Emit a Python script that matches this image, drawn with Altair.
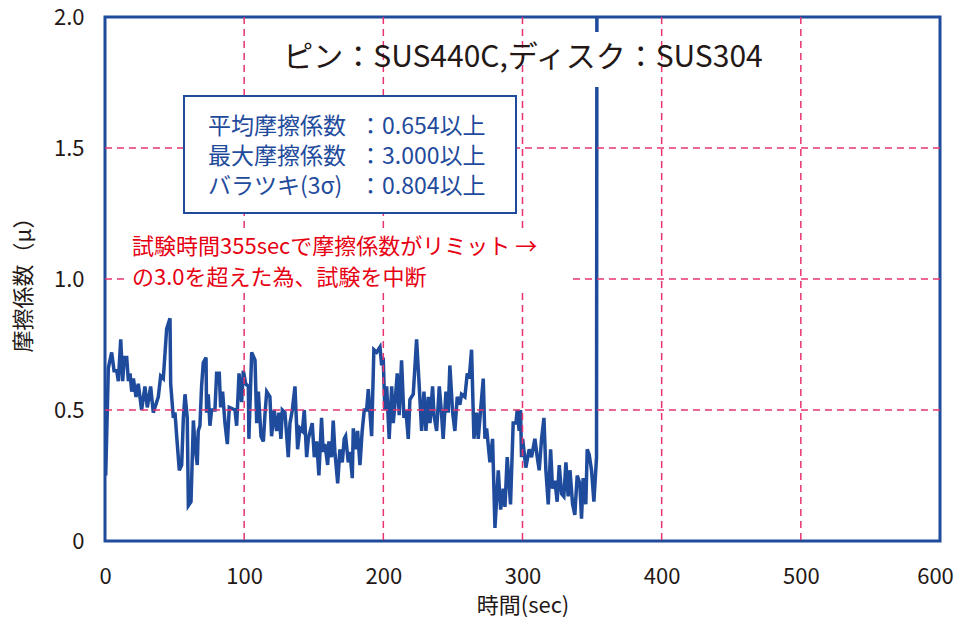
import altair as alt
import pandas as pd

# ---- data ----
time_sec = [0.5, 2.4, 4.8, 6.5, 8.4, 9.6, 11.3, 12.7, 13.9, 15.6, 16.8, 18.0, 19.2, 20.4, 22.3, 23.9,
            26.3, 28.7, 30.4, 32.8, 34.7, 38.3, 40.0, 41.9, 44.3, 46.7, 47.2, 49.1, 50.3, 51.5, 53.4,
            55.1, 56.3, 57.5, 59.1, 59.9, 61.8, 63.5, 64.7, 66.3, 67.0, 68.2, 69.4, 70.6, 72.6, 73.0,
            74.2, 75.4, 76.6, 79.0, 80.2, 82.1, 83.1, 84.5, 86.2, 87.9, 89.3,
            93.4, 94.6, 96.3, 98.2, 99.4, 101.1, 103.0, 103.4, 105.4, 107.8, 109.0, 110.2, 112.1,
            113.8, 114.9, 116.2, 118.5, 119.7, 121.6, 123.3, 125.0, 126.4, 127.4, 129.3, 131.7,
            132.9, 134.6, 136.5, 138.4, 140.1, 141.8, 143.2, 144.9, 146.1, 148.9, 150.4, 152.1,
            153.7, 155.6, 156.8, 158.0, 160.0, 160.9, 162.8, 164.0, 165.2, 167.2, 168.8, 170.5,
            171.9, 172.9, 174.8, 176.0, 177.7, 178.4, 180.1, 181.5, 183.2, 184.8, 186.3,
            188.0, 189.2, 191.6, 193.2, 195.2, 196.4, 197.6, 198.8, 199.9, 201.1, 202.4, 204.2,
            206.0, 207.1, 208.3, 210.0, 211.4, 213.1, 214.8, 216.2, 217.9, 219.1, 221.5, 223.9,
            225.8, 227.5, 229.2, 230.6, 232.3, 233.5, 235.4, 236.4, 238.3, 240.2, 241.9, 243.0,
            245.0, 246.6, 247.8, 249.8, 251.4, 253.1, 255.0, 256.2, 258.6, 260.3, 261.7, 263.4,
            265.1, 267.0, 268.2, 269.9,
            271.8, 273.0, 274.2, 276.6, 278.5, 280.2, 282.6, 284.3, 286.2, 287.4, 289.0, 291.4,
            293.3, 295.3, 296.2, 297.6, 298.6, 299.3, 300.1, 302.4, 304.8, 306.5, 308.9, 310.6,
            312.0, 313.7, 315.4, 316.8, 318.5, 320.2, 321.6, 323.3, 324.9, 326.4, 328.1, 329.7,
            331.2, 332.8, 334.1, 336.0, 337.6, 339.3, 341.2, 342.4, 343.6, 345.5, 346.5, 347.9,
            349.6, 351.3, 353.2, 353.6]
mu = [0.25, 0.66, 0.72, 0.65, 0.65, 0.61, 0.77, 0.61, 0.70, 0.70, 0.61, 0.64, 0.57, 0.62, 0.55, 0.60,
      0.50, 0.59, 0.51, 0.59, 0.49, 0.55, 0.63, 0.62, 0.81, 0.85, 0.60, 0.47, 0.49, 0.40, 0.27,
      0.29, 0.47, 0.56, 0.47, 0.135, 0.15, 0.46, 0.36, 0.29, 0.42, 0.44, 0.59, 0.68, 0.70, 0.49,
      0.56, 0.44, 0.50, 0.50, 0.64, 0.64, 0.51, 0.57, 0.45, 0.37, 0.51,
      0.50, 0.44, 0.64, 0.53, 0.65, 0.60, 0.59, 0.39, 0.72, 0.69, 0.45, 0.57, 0.40,
      0.38, 0.48, 0.57, 0.55, 0.40, 0.50, 0.42, 0.49, 0.39, 0.50, 0.49, 0.32,
      0.45, 0.50, 0.59, 0.35, 0.43, 0.42, 0.50, 0.32, 0.39, 0.45, 0.32, 0.38,
      0.25, 0.47, 0.34, 0.37, 0.29, 0.38, 0.32, 0.46, 0.34, 0.22, 0.35, 0.30,
      0.39, 0.40, 0.30, 0.34, 0.24, 0.43, 0.35, 0.42, 0.29, 0.42, 0.50,
      0.50, 0.58, 0.40, 0.73, 0.72, 0.73, 0.74, 0.67, 0.70, 0.50, 0.59, 0.39,
      0.59, 0.45, 0.52, 0.64, 0.48, 0.69, 0.47, 0.50, 0.39, 0.54, 0.56, 0.77,
      0.59, 0.42, 0.57, 0.42, 0.55, 0.45, 0.59, 0.48, 0.42, 0.59, 0.48, 0.39,
      0.57, 0.49, 0.67, 0.49, 0.42, 0.55, 0.52, 0.56, 0.55, 0.64, 0.62, 0.73,
      0.39, 0.49, 0.39, 0.50,
      0.62, 0.39, 0.43, 0.30, 0.39, 0.05, 0.27, 0.12, 0.20, 0.13, 0.32, 0.14,
      0.45, 0.45, 0.50, 0.42, 0.50, 0.32, 0.39, 0.28, 0.35, 0.32, 0.39, 0.32,
      0.27, 0.39, 0.47, 0.27, 0.14, 0.35, 0.20, 0.23, 0.15, 0.29, 0.18, 0.17,
      0.30, 0.17, 0.27, 0.14, 0.10, 0.25, 0.22, 0.085, 0.24, 0.14, 0.35, 0.33,
      0.27, 0.15, 0.32, 3.0]

x_ticks = [0, 100, 200, 300, 400, 500, 600]
y_ticks = [0, 0.5, 1.0, 1.5, 2.0]
grid_x = [100, 200, 300, 400, 500]
grid_y = [0.5, 1.0, 1.5]

title_text = "ピン：SUS440C,ディスク：SUS304"
stat_names = ["平均摩擦係数", "最大摩擦係数", "バラツキ(3σ)"]
stat_values = ["：0.654以上", "：3.000以上", "：0.804以上"]
note_lines = ["試験時間355secで摩擦係数がリミット →", "の3.0を超えた為、試験を中断"]
x_title = "時間(sec)"
y_title = "摩擦係数（μ）"

# ---- styles ----
FONT = "Noto Sans CJK JP"
BLUE = "#1f4b9c"
GRID_RED = "#e8336e"
NOTE_RED = "#e60012"
INK = "#231815"

xs = alt.Scale(domain=[0, 600], nice=False, zero=False)
ys = alt.Scale(domain=[0, 2], nice=False)

X_AXIS = alt.Axis(values=x_ticks, title=x_title, format="d", grid=False, labelFlush=False,
                  labelOffset=alt.ExprRef("datum.value == 600 ? -5 : 0"),
                  labelPadding=25, titlePadding=8)
Y_AXIS = alt.Axis(values=y_ticks, title=y_title, grid=False, labelFlush=False,
                  labelExpr="datum.value == 0 ? '0' : format(datum.value, '.1f')",
                  labelPadding=21, titlePadding=18)

df = pd.DataFrame({"t": time_sec, "mu": mu})

line = alt.Chart(df).mark_line(color=BLUE, strokeWidth=3.5, clip=True).encode(
    x=alt.X("t:Q", scale=xs, axis=X_AXIS, title=x_title),
    y=alt.Y("mu:Q", scale=ys, axis=Y_AXIS, title=y_title),
)

one = pd.DataFrame({"k": [0]})

# positions below are pixels inside the plot area (origin at its top-left corner)
title_bg = alt.Chart(one).mark_rect(fill="white").encode(
    x=alt.value(180), x2=alt.value(660), y=alt.value(15), y2=alt.value(70))

gridx = alt.Chart(pd.DataFrame({"gx": grid_x})).mark_rule(
    color=GRID_RED, strokeWidth=1.5, strokeDash=[7, 5]).encode(
    x=alt.X("gx:Q", scale=xs, axis=X_AXIS, title=x_title))
gridy = alt.Chart(pd.DataFrame({"gy": grid_y})).mark_rule(
    color=GRID_RED, strokeWidth=1.5, strokeDash=[7, 5]).encode(
    y=alt.Y("gy:Q", scale=ys, axis=Y_AXIS, title=y_title))

title_mark = alt.Chart(pd.DataFrame({"label": [title_text]})).mark_text(
    font=FONT, fontSize=30, color=INK, align="center", baseline="middle").encode(
    x=alt.value(418), y=alt.value(41), text="label:N")

box = alt.Chart(one).mark_rect(fill="white", stroke=BLUE, strokeWidth=2).encode(
    x=alt.value(79), x2=alt.value(411), y=alt.value(79), y2=alt.value(196))

stat_left = alt.Chart(pd.DataFrame({"label": ["\n".join(stat_names)]})).mark_text(
    font=FONT, fontSize=23, color=BLUE, align="left", baseline="middle",
    lineBreak="\n", lineHeight=30).encode(
    x=alt.value(103), y=alt.value(110), text="label:N")
stat_right = alt.Chart(pd.DataFrame({"label": ["\n".join(stat_values)]})).mark_text(
    font=FONT, fontSize=23, color=BLUE, align="left", baseline="middle",
    lineBreak="\n", lineHeight=30).encode(
    x=alt.value(254), y=alt.value(110), text="label:N")

note_bg = alt.Chart(one).mark_rect(fill="white").encode(
    x=alt.value(22), x2=alt.value(467), y=alt.value(213), y2=alt.value(276))
note = alt.Chart(pd.DataFrame({"label": ["\n".join(note_lines)]})).mark_text(
    font=FONT, fontSize=22, color=NOTE_RED, align="left", baseline="middle",
    lineBreak="\n", lineHeight=31).encode(
    x=alt.value(27), y=alt.value(230), text="label:N")

chart = alt.layer(
    line, title_bg, gridx, gridy, title_mark, box, stat_left, stat_right, note_bg, note
).properties(
    width=835, height=524,
    autosize=alt.AutoSizeParams(type="none"),
    padding={"left": 97, "top": 9, "right": 14, "bottom": 76},
).configure_view(
    stroke=BLUE, strokeWidth=3
).configure_axis(
    domain=False, ticks=False,
    labelFont=FONT, labelFontSize=22, labelColor=INK,
    titleFont=FONT, titleFontSize=22, titleFontWeight="normal", titleColor=INK,
)

chart.save("out.html", embed_options={"renderer": "svg", "actions": False})
